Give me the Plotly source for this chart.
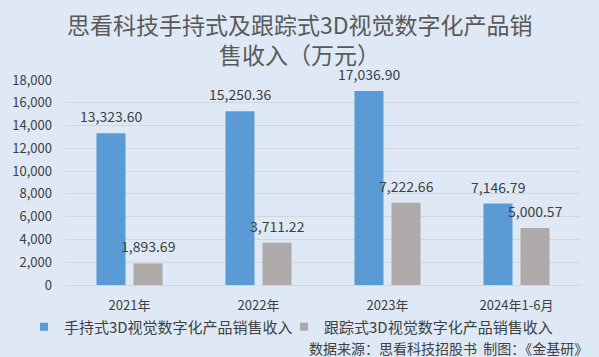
import plotly.graph_objects as go

categories = ["2021年", "2022年", "2023年", "2024年1-6月"]
handheld = [13323.60, 15250.36, 17036.90, 7146.79]
tracking = [1893.69, 3711.22, 7222.66, 5000.57]
handheld_name = "手持式3D视觉数字化产品销售收入"
tracking_name = "跟踪式3D视觉数字化产品销售收入"
y_ticks = [0, 2000, 4000, 6000, 8000, 10000, 12000, 14000, 16000, 18000]
title_lines = ["思看科技手持式及跟踪式3D视觉数字化产品销", "售收入（万元）"]
source_text = "数据来源：思看科技招股书  制图：《金基研》"

FONT = "Noto Sans CJK SC"
BG = "#DEE9F5"
BLUE = "#5B9BD5"
GRAY = "#AEAAAA"
TXT = "#404040"

fig = go.Figure()
fig.add_trace(go.Bar(x=categories, y=handheld, name=handheld_name,
                     marker=dict(color=BLUE, line=dict(width=0)), showlegend=False))
fig.add_trace(go.Bar(x=categories, y=tracking, name=tracking_name,
                     marker=dict(color=GRAY, line=dict(width=0)), showlegend=False))
# legend entries (small square symbols like the reference)
fig.add_trace(go.Scatter(x=[None], y=[None], mode="markers", name=handheld_name,
                         marker=dict(symbol="square", size=8, color=BLUE), legend="legend"))
fig.add_trace(go.Scatter(x=[None], y=[None], mode="markers", name=tracking_name,
                         marker=dict(symbol="square", size=8, color=GRAY), legend="legend2"))

# data labels positioned from the data values
for vals, shift in ((handheld, -18.5), (tracking, 18.5)):
    for c, v in zip(categories, vals):
        fig.add_annotation(x=c, y=v, xref="x", yref="y", text=f"{v:,.2f}",
                           showarrow=False, xshift=shift, yshift=5,
                           yanchor="bottom", xanchor="center",
                           font=dict(size=14, color=TXT, family=FONT))

legend_style = dict(orientation="h", y=-0.205, yanchor="middle", xanchor="left",
                    font=dict(size=15, color=TXT, family=FONT), bgcolor="rgba(0,0,0,0)")

fig.update_layout(
    width=599, height=357,
    paper_bgcolor=BG, plot_bgcolor=BG,
    margin=dict(l=65, r=18, t=80, b=72),
    font=dict(family=FONT, color=TXT, size=13),
    barmode="group", bargap=0.426, bargroupgap=0.216,
    showlegend=True,
    legend=dict(x=-0.0795, **legend_style),
    legend2=dict(x=0.4244, **legend_style),
)
fig.add_annotation(text=title_lines[0], xref="paper", yref="paper", x=0.4554, y=1.2634,
                   xanchor="center", yanchor="middle", showarrow=False, yshift=2,
                   font=dict(size=23, color="#595959", family=FONT))
fig.add_annotation(text=title_lines[1], xref="paper", yref="paper", x=0.4554, y=1.117,
                   xanchor="center", yanchor="middle", showarrow=False, yshift=2,
                   font=dict(size=23, color="#595959", family=FONT))
fig.update_yaxes(
    range=[0, 18000], tickvals=y_ticks, tickformat=",d",
    showgrid=True, gridcolor="#D5D5D5", gridwidth=1,
    zeroline=False, showline=False, ticks="", ticklabelstandoff=12,
    tickfont=dict(size=13, color=TXT), automargin=False,
)
fig.update_xaxes(
    showline=True, linecolor="#D5D5D5", linewidth=1, ticks="",
    ticklabelstandoff=8, tickfont=dict(size=13, color=TXT), automargin=False,
)
fig.add_annotation(
    text=source_text, xref="paper", yref="paper", x=1.0174, y=-0.307,
    xanchor="right", yanchor="middle", showarrow=False,
    font=dict(size=14, color=TXT, family=FONT),
)

fig.write_html(
    "out.html",
    config={"displayModeBar": False},
    post_script="document.body.style.margin='0';document.body.style.background='" + BG + "';",
)
